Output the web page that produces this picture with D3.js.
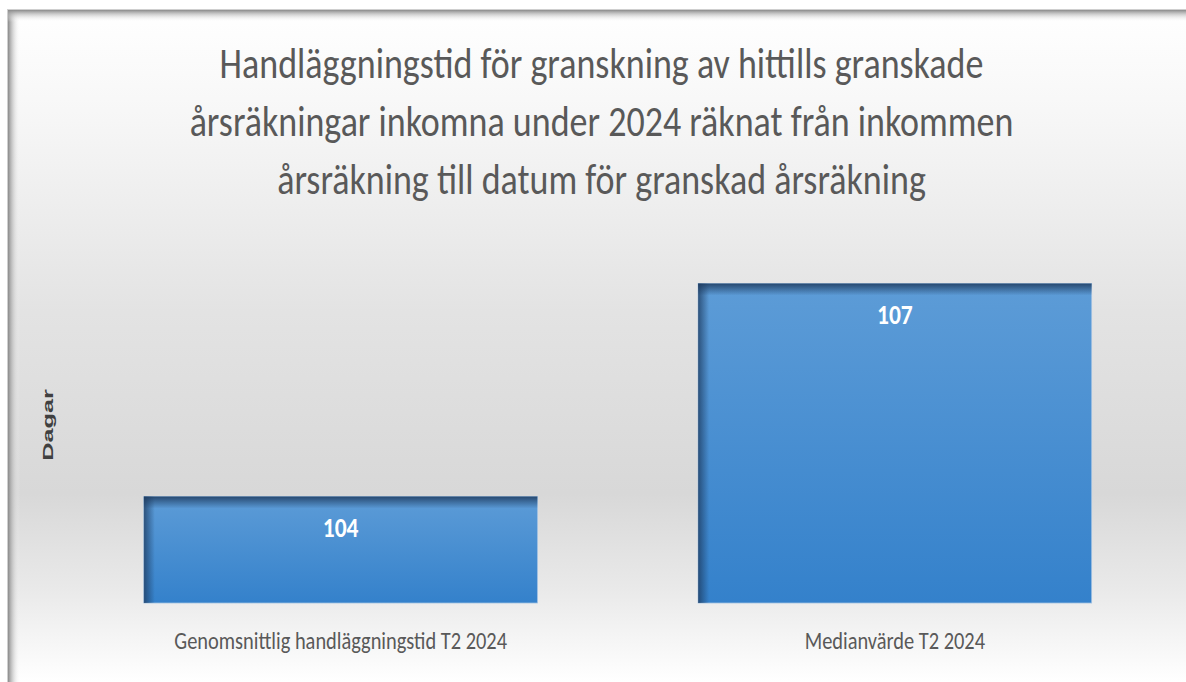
<!DOCTYPE html>
<html>
<head>
<meta charset="utf-8">
<script src="https://cdn.jsdelivr.net/npm/d3@7"></script>
<style>
  html, body { margin: 0; padding: 0; background: #ffffff; overflow: hidden; }
  svg { display: block; }
</style>
</head>
<body>
<svg id="chart" width="1186" height="682"></svg>
<script>
// Chart data
const categories = ["Genomsnittlig handläggningstid T2 2024", "Medianvärde T2 2024"];
const values = [104, 107];
const valueLabels = ["104", "107"];
const titleLines = [
  "Handläggningstid för granskning av hittills granskade",
  "årsräkningar inkomna under 2024 räknat från inkommen",
  "årsräkning till datum för granskad årsräkning"
];
const axisTitle = "Dagar";
const yDomain = [102.5, 108];

const W = 1186, H = 682;
const svg = d3.select("#chart");
const defs = svg.append("defs");

// Chart-area background: white at the top, grey through the middle, white at the bottom
const bg = defs.append("linearGradient").attr("id", "bgGrad")
  .attr("x1", 0).attr("y1", 0).attr("x2", 0).attr("y2", 1);
[[0, "#ffffff"], [0.15, "#f7f7f7"], [0.45, "#e3e3e3"], [0.72, "#d8d8d8"], [0.86, "#e9e9e9"], [1, "#ffffff"]]
  .forEach(([o, c]) => bg.append("stop").attr("offset", o).attr("stop-color", c));

// Frame shadow on the left and top edges
const shL = defs.append("linearGradient").attr("id", "shadowL")
  .attr("x1", 0).attr("y1", 0).attr("x2", 1).attr("y2", 0);
shL.append("stop").attr("offset", 0).attr("stop-color", "#8a8a8a").attr("stop-opacity", 1);
shL.append("stop").attr("offset", 1).attr("stop-color", "#ffffff").attr("stop-opacity", 0);
const shT = defs.append("linearGradient").attr("id", "shadowT")
  .attr("x1", 0).attr("y1", 0).attr("x2", 0).attr("y2", 1);
shT.append("stop").attr("offset", 0).attr("stop-color", "#8a8a8a").attr("stop-opacity", 1);
shT.append("stop").attr("offset", 1).attr("stop-color", "#ffffff").attr("stop-opacity", 0);

// Bar fill and inner shadows
const barGrad = defs.append("linearGradient").attr("id", "barGrad")
  .attr("x1", 0).attr("y1", 0).attr("x2", 0).attr("y2", 1);
barGrad.append("stop").attr("offset", 0).attr("stop-color", "#5d9cd7");
barGrad.append("stop").attr("offset", 1).attr("stop-color", "#3481cb");
const innerT = defs.append("linearGradient").attr("id", "innerT")
  .attr("x1", 0).attr("y1", 0).attr("x2", 0).attr("y2", 1);
innerT.append("stop").attr("offset", 0).attr("stop-color", "#1d3a5e").attr("stop-opacity", 0.85);
innerT.append("stop").attr("offset", 1).attr("stop-color", "#1d3a5e").attr("stop-opacity", 0);
const innerL = defs.append("linearGradient").attr("id", "innerL")
  .attr("x1", 0).attr("y1", 0).attr("x2", 1).attr("y2", 0);
innerL.append("stop").attr("offset", 0).attr("stop-color", "#1d3a5e").attr("stop-opacity", 0.75);
innerL.append("stop").attr("offset", 1).attr("stop-color", "#1d3a5e").attr("stop-opacity", 0);

// Background and frame
svg.append("rect").attr("x", 8).attr("y", 10).attr("width", W - 8).attr("height", H - 10)
  .attr("fill", "url(#bgGrad)");
svg.append("rect").attr("x", 7).attr("y", 9).attr("width", 1).attr("height", H - 9).attr("fill", "#cfcfcf");
svg.append("rect").attr("x", 7).attr("y", 9).attr("width", W - 7).attr("height", 1).attr("fill", "#cfcfcf");
svg.append("rect").attr("x", 8).attr("y", 10).attr("width", 12).attr("height", H - 10).attr("fill", "url(#shadowL)");
svg.append("rect").attr("x", 8).attr("y", 10).attr("width", W - 8).attr("height", 12).attr("fill", "url(#shadowT)");

// Text drawn with a vertical stretch
function stretched(sel, x, y, sy, extra) {
  return sel.attr("x", 0).attr("y", 0)
    .attr("transform", `translate(${x},${y}) scale(1,${sy})${extra || ""}`);
}

const font = "Carlito, Lato, 'Open Sans', sans-serif";

// Title
const titleBaselines = [78, 136, 194];
titleLines.forEach((line, i) => {
  stretched(svg.append("text"), 601.5, titleBaselines[i], 1.2)
    .attr("text-anchor", "middle")
    .attr("font-family", font)
    .attr("font-size", 36)
    .attr("fill", "#595959")
    .text(line);
});

// Scales
const x = d3.scaleBand().domain(categories).range([63.5, 1172])
  .paddingInner(0.29).paddingOuter(0.145);
const y = d3.scaleLinear().domain(yDomain).range([603, 212.5]);

// Bars
const bars = svg.append("g").selectAll("g").data(values).join("g");
bars.append("rect")
  .attr("x", (d, i) => x(categories[i]))
  .attr("y", d => y(d))
  .attr("width", x.bandwidth())
  .attr("height", d => y(yDomain[0]) - y(d))
  .attr("fill", "url(#barGrad)")
  .attr("stroke", "#9fc0e2").attr("stroke-width", 0.8);
bars.append("rect")
  .attr("x", (d, i) => x(categories[i]))
  .attr("y", d => y(d))
  .attr("width", x.bandwidth())
  .attr("height", 12)
  .attr("fill", "url(#innerT)");
bars.append("rect")
  .attr("x", (d, i) => x(categories[i]))
  .attr("y", d => y(d))
  .attr("width", 11)
  .attr("height", d => y(yDomain[0]) - y(d))
  .attr("fill", "url(#innerL)");

// Value labels inside the top of each bar
values.forEach((v, i) => {
  stretched(svg.append("text"), x(categories[i]) + x.bandwidth() / 2, y(v) + 40, 1.2)
    .attr("text-anchor", "middle")
    .attr("font-family", font)
    .attr("font-weight", "bold")
    .attr("font-size", 23.5)
    .attr("fill", "#ffffff")
    .text(valueLabels[i]);
});

// Category labels
categories.forEach(c => {
  stretched(svg.append("text"), x(c) + x.bandwidth() / 2, y(yDomain[0]) + 46, 1.25)
    .attr("text-anchor", "middle")
    .attr("font-family", font)
    .attr("font-size", 20.4)
    .attr("fill", "#595959")
    .text(c);
});

// Axis title
stretched(svg.append("text"), 53, 425, 1.74, " rotate(-90)")
  .attr("text-anchor", "middle")
  .attr("font-family", "'Liberation Sans', Arial, sans-serif")
  .attr("font-weight", "bold")
  .attr("font-size", 14.5)
  .attr("fill", "#404040")
  .text(axisTitle);
</script>
</body>
</html>
